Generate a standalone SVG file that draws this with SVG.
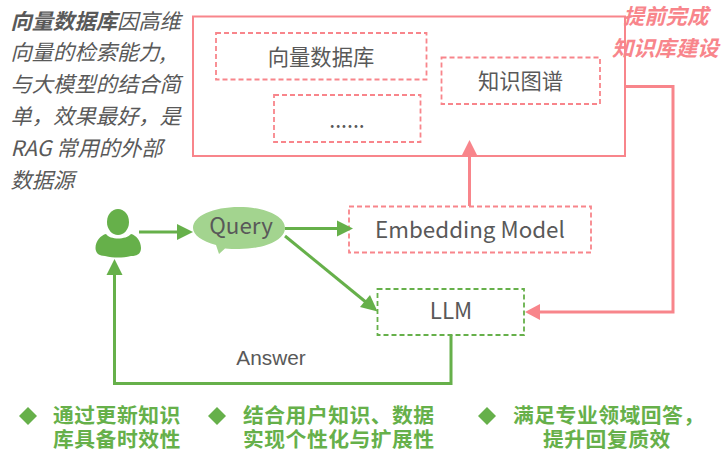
<svg xmlns="http://www.w3.org/2000/svg" width="722" height="451" viewBox="0 0 722 451">
<style>
text{font-family:"Noto Sans CJK SC","Noto Sans",sans-serif;fill:#595959}
.desc{font-size:21.3px;font-style:italic}
.label{font-size:21.3px;text-anchor:middle}
.en{font-size:22.4px}
.pinkbox{fill:none;stroke:#F8858B;stroke-width:1.8;stroke-dasharray:5 3}
.pinkline{fill:none;stroke:#F8858B;stroke-width:3}
.greenline{fill:none;stroke:#66B04A;stroke-width:3}
.pinkhead{fill:#F8858B}
.greenhead{fill:#66B04A}
.note{font-size:21.3px;font-weight:700;font-style:italic;fill:#F8858B}
.feat{font-family:"Liberation Sans","Noto Sans CJK SC",sans-serif;font-size:20.8px;letter-spacing:0.5px;font-weight:700;fill:#66B04A}
</style>
<rect width="722" height="451" fill="#fff"/>
<g id="description">
<text class="desc" x="10.500" y="29"><tspan font-weight="700">向量数据库</tspan>因高维</text>
<text class="desc" x="10.500" y="60">向量的检索能力,</text>
<text class="desc" x="10.500" y="92">与大模型的结合简</text>
<text class="desc" x="10.500" y="124">单，效果最好，是</text>
<text class="desc" x="10.500" y="156">RAG 常用的外部</text>
<text class="desc" x="10.500" y="188">数据源</text>
</g>
<g id="knowledge-base"><rect x="193" y="16.500" width="432" height="139.500" fill="none" stroke="#F8858B" stroke-width="2"/></g>
<g id="vector-db"><rect class="pinkbox" x="216" y="33" width="210.500" height="46.500"/><text class="label" x="321" y="65">向量数据库</text></g>
<g id="more"><rect class="pinkbox" x="274" y="95" width="146.500" height="47"/><text class="label" x="347" y="128">......</text></g>
<g id="knowledge-graph"><rect class="pinkbox" x="441.500" y="57.500" width="158.500" height="46.500"/><text class="label" x="520.500" y="89">知识图谱</text></g>
<g id="embedding"><rect class="pinkbox" x="349" y="206.500" width="242" height="46"/><text class="label en" x="470" y="238">Embedding Model</text></g>
<g id="llm"><rect x="377.500" y="289" width="146.500" height="46" fill="none" stroke="#66B04A" stroke-width="1.800" stroke-dasharray="5 3"/><text class="label en" x="451" y="319">LLM</text></g>
<g id="user">
<ellipse cx="118" cy="222" rx="11" ry="13" fill="#66B04A"/>
<path d="M106 234C110 240 126 240 131 234C136 235 141 241 141 248C141 254 137 256 131 256C122 258 114 258 105 256C99 256 95.500 253 95.500 248C95.500 241 101 235 106 234Z" fill="#66B04A"/>
</g>
<g id="query">
<path d="M193 228C193 216 213 207 239 207C265 207 285 216 285 228C285 240 265 249 239 249C234 249 229 249 225 248.500L219 254L216 245C202 241 193 235 193 228Z" fill="#A3D48F"/>
<text class="label en" x="241" y="234">Query</text>
</g>
<g id="connectors">
<path class="pinkline" d="M469.500 206V155"/><path class="pinkhead" d="M469.500 140L477.500 156H461.500Z"/>
<path class="pinkline" d="M625 86.500H673V312H538"/><path class="pinkhead" d="M525 312L540 304V320Z"/>
<path class="greenline" d="M139 232H180"/><path class="greenhead" d="M193 232L177 224V240Z"/>
<path class="greenline" d="M285 228.500H340"/><path class="greenhead" d="M353 228.500L337 220.500V236.500Z"/>
<path class="greenline" d="M285 236L367 303"/><path class="greenhead" d="M377.500 311.500L360 307L370 295Z"/>
<path class="greenline" d="M451 335V383.500H114.500V272"/><path class="greenhead" d="M114.500 259L122.500 275H106.500Z"/>
</g>
<g id="answer-label"><text x="271" y="365" text-anchor="middle" style="font-family:'Liberation Sans',sans-serif;font-size:20.800px">Answer</text></g>
<g id="note"><text class="note" x="623" y="24">提前完成</text><text class="note" x="612" y="56">知识库建设</text></g>
<g id="feature-1"><path class="greenhead" d="M28 407L37 416L28 425L19 416Z"/><text class="feat" x="53" y="423">通过更新知识</text><text class="feat" x="53" y="446.600">库具备时效性</text></g>
<g id="feature-2"><path class="greenhead" d="M217 407L226 416L217 425L208 416Z"/><text class="feat" x="243" y="423">结合用户知识、数据</text><text class="feat" x="243" y="446.600">实现个性化与扩展性</text></g>
<g id="feature-3"><path class="greenhead" d="M487 407L496 416L487 425L478 416Z"/><text class="feat" x="513" y="423">满足专业领域回答，</text><text class="feat" x="543" y="446.600">提升回复质效</text></g>
</svg>
